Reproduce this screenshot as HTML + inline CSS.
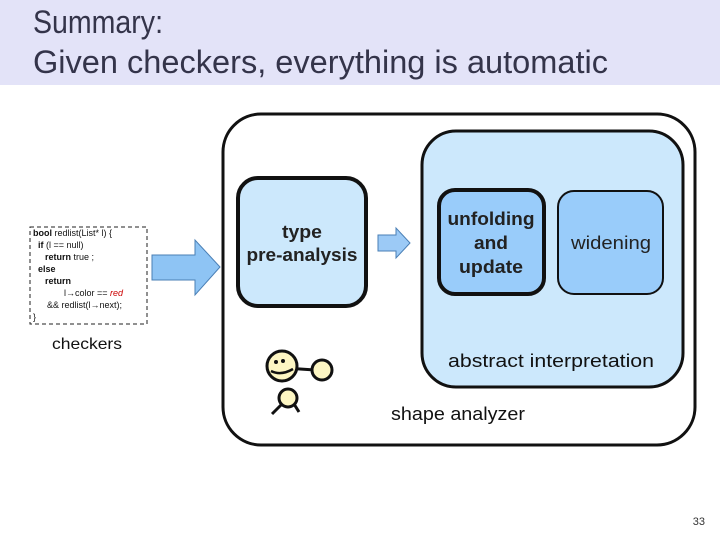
<!DOCTYPE html>
<html><head><meta charset="utf-8"><style>
html,body{margin:0;padding:0;background:#fff;}
svg{display:block;font-family:"Liberation Sans","DejaVu Sans",sans-serif;}
</style></head><body>
<svg width="720" height="540" viewBox="0 0 720 540" xmlns="http://www.w3.org/2000/svg">
<rect x="0" y="0" width="720" height="85" fill="#e3e3f8"/>
<text x="33" y="33" font-size="32" fill="#34344a" textLength="130" lengthAdjust="spacingAndGlyphs">Summary:</text>
<text x="33" y="73" font-size="32" fill="#34344a" textLength="575" lengthAdjust="spacingAndGlyphs">Given checkers, everything is automatic</text>

<!-- code box -->
<rect x="30" y="227" width="117" height="97" fill="#fff" stroke="#222" stroke-width="1" stroke-dasharray="4,3"/>
<g font-size="9" fill="#111">
<text x="33" y="236"><tspan font-weight="bold">bool</tspan> redlist(List* l) {</text>
<text x="38" y="248"><tspan font-weight="bold">if</tspan> (l == null)</text>
<text x="45" y="260"><tspan font-weight="bold">return</tspan> true ;</text>
<text x="38" y="272" font-weight="bold">else</text>
<text x="45" y="284" font-weight="bold">return</text>
<text x="64" y="296">l→color == <tspan fill="#c00" font-style="italic">red</tspan></text>
<text x="47" y="308">&amp;&amp; redlist(l→next);</text>
<text x="33" y="320">}</text>
</g>
<text x="52" y="349" font-size="16" fill="#111" textLength="70" lengthAdjust="spacingAndGlyphs">checkers</text>

<!-- big arrow -->
<polygon points="152,255 195,255 195,240 220,267 195,295 195,280 152,280" fill="#8ec4f4" stroke="#4a7fb5" stroke-width="1"/>

<!-- outer -->
<rect x="223" y="114" width="472" height="331" rx="38" fill="#fff" stroke="#111" stroke-width="3"/>
<!-- abstract interp -->
<rect x="422" y="131" width="261" height="256" rx="34" fill="#cce8fc" stroke="#111" stroke-width="3"/>
<!-- type -->
<rect x="238" y="178" width="128" height="128" rx="20" fill="#cce8fc" stroke="#111" stroke-width="4"/>
<text x="302" y="238" font-size="18" font-weight="bold" text-anchor="middle" fill="#222" textLength="40" lengthAdjust="spacingAndGlyphs">type</text>
<text x="302" y="261" font-size="18" font-weight="bold" text-anchor="middle" fill="#222" textLength="111" lengthAdjust="spacingAndGlyphs">pre-analysis</text>
<!-- small arrow -->
<polygon points="378,235 396,235 396,228 410,243 396,258 396,251 378,251" fill="#9ccaf6" stroke="#4a7fb5" stroke-width="1"/>
<!-- unfolding -->
<rect x="439" y="190" width="105" height="104" rx="16" fill="#99ccfa" stroke="#111" stroke-width="4"/>
<text x="491" y="225" font-size="18" font-weight="bold" text-anchor="middle" fill="#222" textLength="87" lengthAdjust="spacingAndGlyphs">unfolding</text>
<text x="491" y="249" font-size="18" font-weight="bold" text-anchor="middle" fill="#222" textLength="34" lengthAdjust="spacingAndGlyphs">and</text>
<text x="491" y="273" font-size="18" font-weight="bold" text-anchor="middle" fill="#222" textLength="64" lengthAdjust="spacingAndGlyphs">update</text>
<!-- widening -->
<rect x="558" y="191" width="105" height="103" rx="16" fill="#99ccfa" stroke="#111" stroke-width="2"/>
<text x="611" y="249" font-size="18" text-anchor="middle" fill="#222" textLength="80" lengthAdjust="spacingAndGlyphs">widening</text>
<text x="551" y="367" font-size="18" text-anchor="middle" fill="#111" textLength="206" lengthAdjust="spacingAndGlyphs">abstract interpretation</text>
<text x="458" y="420" font-size="18" text-anchor="middle" fill="#111" textLength="134" lengthAdjust="spacingAndGlyphs">shape analyzer</text>

<!-- little figure -->
<g stroke="#111" stroke-width="3" fill="#fdf6c3">
<line x1="285" y1="368" x2="315" y2="370"/>
<circle cx="322" cy="370" r="10"/>
<line x1="282" y1="404" x2="272" y2="414"/>
<line x1="294" y1="404" x2="299" y2="412"/>
<circle cx="288" cy="398" r="9"/>
<circle cx="282" cy="366" r="15"/>
</g>
<circle cx="276" cy="362" r="2" fill="#111"/>
<circle cx="283" cy="361" r="2" fill="#111"/>
<path d="M271,371 Q281,376 293,369" stroke="#111" stroke-width="2.5" fill="none"/>

<text x="705" y="525" font-size="11" text-anchor="end" fill="#333">33</text>
</svg>
</body></html>
